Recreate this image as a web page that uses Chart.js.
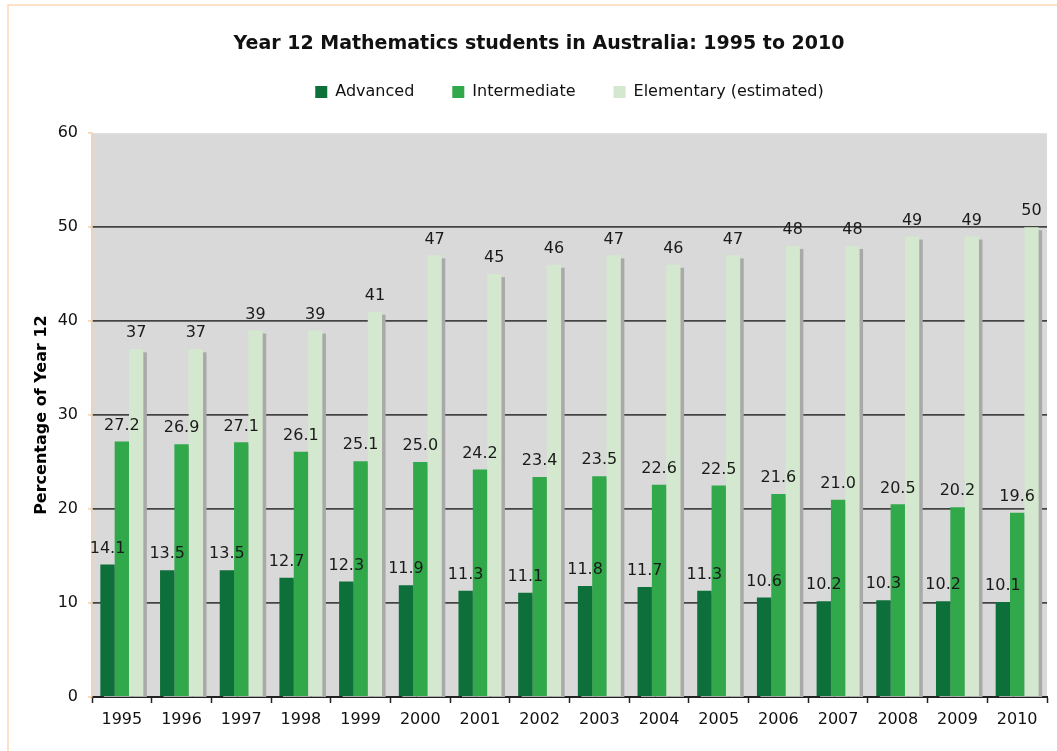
<!DOCTYPE html>
<html><head><meta charset="utf-8">
<script src="https://cdn.jsdelivr.net/npm/chart.js@4/dist/chart.umd.min.js"></script>
<style>html,body{margin:0;padding:0;background:#fff}#wrap{width:1057px;height:751px;position:relative}</style>
</head><body><div id="wrap"><canvas id="c" width="1057" height="751"></canvas></div>
<script>
const years = ['1995','1996','1997','1998','1999','2000','2001','2002','2003','2004','2005','2006','2007','2008','2009','2010'];
const advanced = [14.1,13.5,13.5,12.7,12.3,11.9,11.3,11.1,11.8,11.7,11.3,10.6,10.2,10.3,10.2,10.1];
const intermediate = [27.2,26.9,27.1,26.1,25.1,25.0,24.2,23.4,23.5,22.6,22.5,21.6,21.0,20.5,20.2,19.6];
const elementary = [37,37,39,39,41,47,45,46,47,46,47,48,48,49,49,50];
const yTicks = [0,10,20,30,40,50,60];
const labelDecimals = [1,1,0];

const FONT = "'DejaVu Sans', Verdana, sans-serif";

const framePlugin = {
  id: 'frame',
  beforeLayout(chart) {
    const lg = chart.legend;
    if (lg && !lg._patched) {
      const f = lg.fit.bind(lg);
      lg.fit = function(){ f(); this.height += 23.3; };
      lg._patched = true;
    }
  },
  beforeDraw(chart) {
    const ctx = chart.ctx, a = chart.chartArea;
    ctx.save();
    ctx.fillStyle = '#ffffff';
    ctx.fillRect(0,0,chart.width,chart.height);
    ctx.strokeStyle = '#fcd9b8';
    ctx.lineWidth = 1.5;
    ctx.strokeRect(8, 5, 1200, 900);
    ctx.fillStyle = '#d9d9d9';
    ctx.fillRect(a.left, a.top, a.right - a.left, a.bottom - a.top);
    ctx.restore();
  },
  beforeDatasetsDraw(chart) {
    const ctx = chart.ctx, a = chart.chartArea;
    ctx.save();
    ctx.beginPath(); ctx.rect(a.left, a.top, a.right - a.left, a.bottom - a.top); ctx.clip();
    ctx.fillStyle = '#a9a9a9';
    chart.data.datasets.forEach((ds, i) => {
      const meta = chart.getDatasetMeta(i);
      meta.data.forEach(bar => {
        const w = bar.width;
        ctx.fillRect(bar.x - w/2 + 3.5, bar.y + 3, w, bar.base - bar.y);
      });
    });
    ctx.restore();
  },
  afterDatasetsDraw(chart) {
    const ctx = chart.ctx;
    ctx.save();
    ctx.font = '16px ' + FONT;
    ctx.fillStyle = '#1a1a1a';
    ctx.textAlign = 'center';
    ctx.textBaseline = 'bottom';
    chart.data.datasets.forEach((ds, i) => {
      const meta = chart.getDatasetMeta(i);
      meta.data.forEach((bar, j) => {
        ctx.fillText(ds.data[j].toFixed(labelDecimals[i]), bar.x, bar.y - 8);
      });
    });
    ctx.restore();
  }
};

new Chart(document.getElementById('c'), {
  type: 'bar',
  data: {
    labels: years,
    datasets: [
      {label: 'Advanced', data: advanced, backgroundColor: '#0d6f39', borderWidth: 0, borderColor: 'rgba(0,0,0,0)'},
      {label: 'Intermediate', data: intermediate, backgroundColor: '#31a94a', borderWidth: 0, borderColor: 'rgba(0,0,0,0)'},
      {label: 'Elementary (estimated)', data: elementary, backgroundColor: '#d4e7cf', borderWidth: 0, borderColor: 'rgba(0,0,0,0)'}
    ]
  },
  options: {
    responsive: false,
    devicePixelRatio: 1,
    animation: false,
    layout: {padding: {left: 31, right: 10, top: 0, bottom: 0}},
    datasets: {bar: {categoryPercentage: 0.72, barPercentage: 1.0}},
    plugins: {
      title: {
        display: true,
        text: 'Year 12 Mathematics students in Australia: 1995 to 2010',
        font: {family: FONT, size: 19, weight: 'bold', lineHeight: 0.2},
        color: '#111',
        padding: {top: 42.1, bottom: 0}
      },
      legend: {
        display: true,
        position: 'top',
        fullSize: false,
        labels: {
          font: {family: FONT, size: 16},
          color: '#111',
          boxWidth: 12, boxHeight: 12,
          padding: 38
        }
      },
      tooltip: {enabled: false}
    },
    scales: {
      x: {
        grid: {display: true, offset: true, drawOnChartArea: false, tickLength: 6, tickColor: '#222', tickWidth: 1.5},
        border: {display: true, color: '#222', width: 2},
        ticks: {font: {family: FONT, size: 16}, color: '#111', padding: 7, maxRotation: 0},
        afterFit(s) { s.height = 54; }
      },
      y: {
        min: 0, max: 60,
        afterBuildTicks(s) { s.ticks = yTicks.map(v => ({value: v})); },
        grid: {
          color: c => (c.tick && (c.tick.value === 60 || c.tick.value === 0)) ? 'rgba(0,0,0,0)' : '#444',
          lineWidth: 1.8,
          tickLength: 4, tickColor: '#f9cfa8', tickWidth: 1.5
        },
        border: {display: true, color: '#f9cfa8', width: 1.5},
        ticks: {font: {family: FONT, size: 16}, color: '#111', padding: 10},
        title: {display: true, text: 'Percentage of Year 12', font: {family: FONT, size: 16, weight: 'bold'}, color: '#000', padding: {top: 1.4, bottom: 0}},
        afterFit(s) { s.width = 61; }
      }
    }
  },
  plugins: [framePlugin]
});
</script>
</body></html>
